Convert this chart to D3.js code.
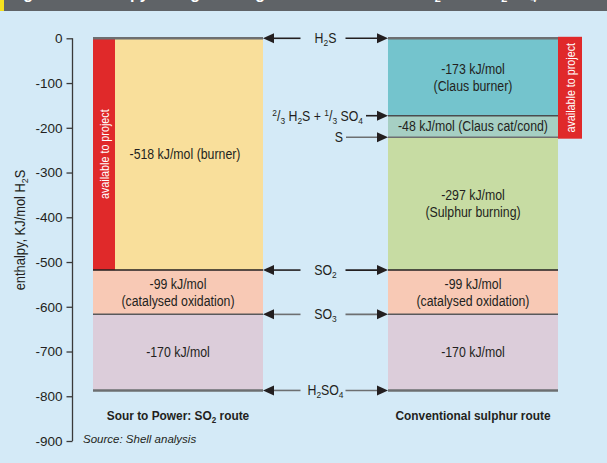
<!DOCTYPE html>
<html lang="en">
<head>
  <meta charset="utf-8">
  <title>Enthalpy routes</title>
  <script src="https://d3js.org/d3.v7.min.js"></script>
  <style>
    body { margin: 0; background: #d4eaf7; }
    svg { display: block; }
    text { font-family: "Liberation Sans", Arial, sans-serif; }
  </style>
</head>
<body>
<div id="chart"></div>
<script>
  // data
  var yTicks = [0, -100, -200, -300, -400, -500, -600, -700, -800, -900];
  var routes = ["so2", "conv"];
  var routeTitles = ["Sour to Power: SO|2| route", "Conventional sulphur route"];

  // enthalpy levels (kJ/mol H2S) at each step boundary
  var so2Levels = [0, -518, -617, -787];
  var so2Labels = [["-518 kJ/mol (burner)"], ["-99 kJ/mol", "(catalysed oxidation)"], ["-170 kJ/mol"]];
  var so2Colors = ["#f9df9b", "#f8c9b5", "#dccdda"];

  var convLevels = [0, -173, -221, -518, -617, -787];
  var convLabels = [["-173 kJ/mol", "(Claus burner)"], ["-48 kJ/mol (Claus cat/cond)"], ["-297 kJ/mol", "(Sulphur burning)"],
                    ["-99 kJ/mol", "(catalysed oxidation)"], ["-170 kJ/mol"]];
  var convColors = ["#74c4cd", "#a6cfc3", "#c7dca3", "#f8c9b5", "#dccdda"];

  // "available to project" ranges
  var so2Available = [0, -518];
  var convAvailable = [0, -221];

  // species at shared levels (arrows both ways) and conventional-only levels
  var sharedSpecies = [["H|2|S", 0], ["SO|2|", -518], ["SO|3|", -617], ["H|2|SO|4|", -787]];
  var convSpecies = [["^2^/|3| H|2|S + ^1^/|3| SO|4|", -173], ["S", -221]];

  var lineColors = { 0: "#6d6f71", "-173": "#4a4c4e", "-221": "#6d6f71", "-518": "#231f20", "-617": "#58595b", "-787": "#6d6f71" };

  var width = 607, height = 463;
  var svg = d3.select("#chart").append("svg").attr("width", width).attr("height", height);

  svg.append("rect").attr("width", width).attr("height", height).attr("fill", "#d4eaf7");

  // title bar (cut off at the top of the picture)
  svg.append("rect").attr("width", width).attr("height", 11).attr("fill", "#5f6367");
  svg.append("rect").attr("width", 4).attr("height", 11).attr("fill", "#f5e11e");
  svg.append("clipPath").attr("id", "tclip").append("rect").attr("width", width).attr("height", 11);

  var y = d3.scaleLinear().domain([0, -900]).range([38.3, 441]);
  var x = d3.scaleBand().domain(routes).range([93, 558]).paddingInner(0.4237).paddingOuter(0);
  var bw = x.bandwidth();

  // writes "A|sub|^sup^" strings as tspans
  function rich(sel, str) {
    var parts = str.split(/(\|[^|]*\||\^[^^]*\^)/).filter(function(s) { return s.length; });
    var shift = 0;
    parts.forEach(function(p) {
      var t = sel.append("tspan"), want = 0;
      if (p[0] === "|") { want = 3; p = p.slice(1, -1); t.attr("font-size", "0.68em"); }
      else if (p[0] === "^") { want = -5; p = p.slice(1, -1); t.attr("font-size", "0.68em"); }
      t.attr("dy", want - shift).text(p);
      shift = want;
    });
  }

  // squeeze text to look like the condensed face of the original
  function condense(sel, f) {
    sel.each(function() {
      var w = this.getComputedTextLength();
      d3.select(this).attr("textLength", w * f).attr("lengthAdjust", "spacingAndGlyphs");
    });
    return sel;
  }

  var title = svg.append("text").attr("clip-path", "url(#tclip)").attr("x", 9).attr("y", -1)
    .attr("fill", "#fff").attr("font-size", 16).attr("font-weight", "bold");
  rich(title, "Figure 3: Enthalpy changes along the two routes from H|2|S into H|2|SO|4|");

  // y axis
  var yAxis = svg.append("g").attr("transform", "translate(72.5,0)")
    .call(d3.axisLeft(y).tickValues(yTicks).tickSize(6).tickPadding(4).tickFormat(function(d) { return String(d); }));
  yAxis.select(".domain").attr("stroke", "#3a3a3a").attr("stroke-width", 1.3).attr("d", "M0," + y(0) + "V" + y(-900));
  yAxis.selectAll(".tick line").attr("stroke", "#3a3a3a").attr("stroke-width", 1.3);
  yAxis.selectAll(".tick text").attr("font-size", 13.5).attr("fill", "#231f20")
    .attr("font-family", "\"Liberation Sans\", sans-serif");

  var ylab = svg.append("text").attr("transform", "translate(25,230) rotate(-90)")
    .attr("text-anchor", "middle").attr("font-size", 14).attr("fill", "#231f20");
  rich(ylab, "enthalpy, KJ/mol H|2|S");
  condense(ylab, 0.92);

  function drawRoute(key, levels, labels, colors) {
    var x0 = x(key);
    var segs = labels.map(function(l, i) { return { top: levels[i], bot: levels[i + 1], lines: l, color: colors[i] }; });
    var g = svg.append("g");
    g.selectAll("rect").data(segs).enter().append("rect")
      .attr("x", x0).attr("width", bw)
      .attr("y", function(d) { return y(d.top); })
      .attr("height", function(d) { return y(d.bot) - y(d.top); })
      .attr("fill", function(d) { return d.color; });
    return segs;
  }

  var so2Segs = drawRoute("so2", so2Levels, so2Labels, so2Colors);
  var convSegs = drawRoute("conv", convLevels, convLabels, convColors);

  // red "available to project" strips
  var strip = svg.append("g");
  strip.append("rect").attr("x", x("so2")).attr("width", 22)
    .attr("y", y(so2Available[0])).attr("height", y(so2Available[1]) - y(so2Available[0])).attr("fill", "#e0292a");
  strip.append("rect").attr("x", x("conv") + bw).attr("width", 24)
    .attr("y", y(convAvailable[0]) - 1.5).attr("height", y(convAvailable[1]) - y(convAvailable[0]) + 3).attr("fill", "#e0292a");
  var s1 = strip.append("text").attr("transform", "translate(" + (x("so2") + 15.5) + "," + ((y(so2Available[0]) + y(so2Available[1])) / 2) + ") rotate(-90)")
    .attr("text-anchor", "middle").attr("font-size", 12.5).attr("fill", "#fff").text("available to project");
  var s2 = strip.append("text").attr("transform", "translate(" + (x("conv") + bw + 16.5) + "," + ((y(convAvailable[0]) + y(convAvailable[1])) / 2) + ") rotate(-90)")
    .attr("text-anchor", "middle").attr("font-size", 12.5).attr("fill", "#fff").text("available to project");
  condense(s1, 0.86);
  condense(s2, 0.86);

  // boundary lines
  function drawLines(key, levels) {
    svg.append("g").selectAll("line").data(levels).enter().append("line")
      .attr("x1", x(key)).attr("x2", x(key) + bw)
      .attr("y1", function(d) { return y(d); }).attr("y2", function(d) { return y(d); })
      .attr("stroke", function(d) { return lineColors[d]; })
      .attr("stroke-width", function(d) { return d === -787 || d === 0 ? 2.5 : 1.5; });
  }
  drawLines("so2", so2Levels);
  drawLines("conv", convLevels);

  // segment labels
  function drawLabels(key, segs, shiftFirst) {
    var cx = x(key) + bw / 2;
    segs.forEach(function(s, i) {
      var cy = (y(s.top) + y(s.bot)) / 2;
      var mx = (i === 0 && shiftFirst) ? cx + shiftFirst : cx;
      var n = s.lines.length;
      s.lines.forEach(function(t, j) {
        var tx = svg.append("text").attr("x", mx).attr("y", cy + 5 + (j - (n - 1) / 2) * 17)
          .attr("text-anchor", "middle").attr("font-size", 14).attr("fill", "#231f20").text(t);
        condense(tx, 0.88);
      });
    });
  }
  drawLabels("so2", so2Segs, 7);
  drawLabels("conv", convSegs, 0);

  // arrows
  var leftEdge = x("so2") + bw, rightEdge = x("conv");
  var mid = (leftEdge + rightEdge) / 2;
  function arrow(x1, x2, yy, col) {
    var dir = x2 > x1 ? 1 : -1;
    svg.append("line").attr("x1", x1).attr("x2", x2 - dir * 8).attr("y1", yy).attr("y2", yy)
      .attr("stroke", col).attr("stroke-width", 1.6);
    svg.append("path").attr("d", "M" + x2 + "," + yy + "L" + (x2 - dir * 11) + "," + (yy - 5) + "L" + (x2 - dir * 11) + "," + (yy + 5) + "Z")
      .attr("fill", "#231f20");
  }
  sharedSpecies.forEach(function(s) {
    var yy = y(s[1]);
    var col = s[1] === 0 || s[1] === -518 ? "#231f20" : "#6d6f71";
    arrow(mid - 25, leftEdge, yy, col);
    arrow(mid + 20, rightEdge, yy, col);
    var t = svg.append("text").attr("x", mid).attr("y", yy + 5).attr("text-anchor", "middle")
      .attr("font-size", 14).attr("fill", "#231f20");
    rich(t, s[0]);
    condense(t, 0.88);
  });
  convSpecies.forEach(function(s, i) {
    var yy = y(s[1]);
    var endX = i === 0 ? 365 : 345;
    arrow(endX + 1, rightEdge, yy, i === 0 ? "#231f20" : "#6d6f71");
    var t = svg.append("text").attr("x", endX - 2).attr("y", yy + 5).attr("text-anchor", "end")
      .attr("font-size", 14).attr("fill", "#231f20");
    rich(t, s[0]);
    condense(t, 0.88);
  });

  // route titles
  routeTitles.forEach(function(r, i) {
    var t = svg.append("text").attr("x", x(routes[i]) + bw / 2).attr("y", 420).attr("text-anchor", "middle")
      .attr("font-size", 13.5).attr("font-weight", "bold").attr("fill", "#231f20");
    rich(t, r);
    condense(t, 0.88);
  });

  svg.append("text").attr("x", 83).attr("y", 443).attr("font-size", 11.5).attr("font-style", "italic")
    .attr("fill", "#231f20").text("Source: Shell analysis");
</script>
</body>
</html>
